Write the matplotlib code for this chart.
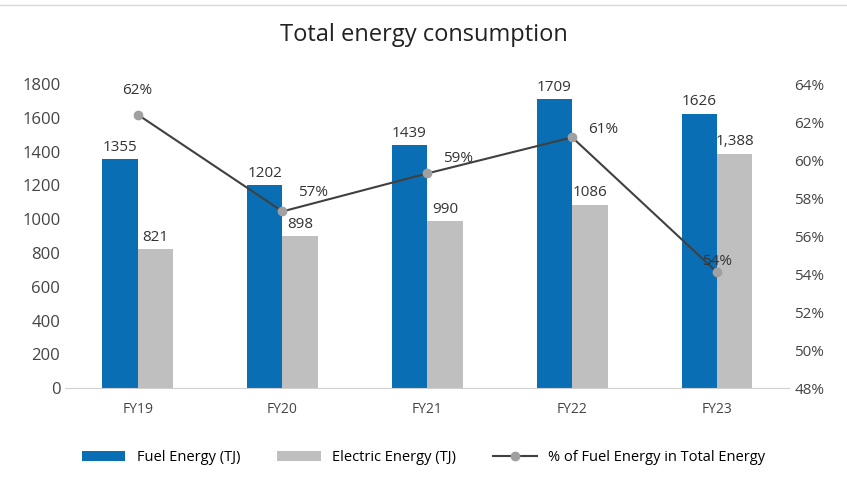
import numpy as np
import matplotlib.pyplot as plt

years = ["FY19", "FY20", "FY21", "FY22", "FY23"]
fuel = [1355, 1202, 1439, 1709, 1626]
electric = [821, 898, 990, 1086, 1388]
electric_labels = ["821", "898", "990", "1086", "1,388"]
fuel_pct = [62.4, 57.3, 59.3, 61.2, 54.1]
pct_labels = ["62%", "57%", "59%", "61%", "54%"]

plt.rcParams['font.family'] = ['Open Sans', 'DejaVu Sans']
fig = plt.figure(figsize=(8.47, 4.78), dpi=100)
ax = fig.add_axes([0.077, 0.188, 0.855, 0.636])
ax2 = ax.twinx()

x = np.arange(len(years))
w = 0.245
blue = "#0A6EB4"
grey = "#BFBFBF"
ax.bar(x - w / 2, fuel, w, color=blue, label="Fuel Energy (TJ)")
ax.bar(x + w / 2, electric, w, color=grey, label="Electric Energy (TJ)")
for i in range(len(x)):
    ax.text(x[i] - w / 2, fuel[i] + 25, str(fuel[i]), ha="center", va="bottom", fontsize=11, color="#333333")
    ax.text(x[i] + w / 2, electric[i] + 25, electric_labels[i], ha="center", va="bottom", fontsize=11, color="#333333")

ax.set_ylim(0, 1800)
ax.set_yticks(range(0, 1801, 200))
ax.set_xlim(-0.5, len(years) - 0.5)
ax.set_xticks(x)
ax.set_xticklabels(years)
ax.tick_params(axis="y", labelsize=12, colors="#444444", length=0)
ax.tick_params(axis="x", labelsize=10, colors="#444444", length=0, pad=10)

ax2.plot(x, fuel_pct, color="#404040", lw=1.5, marker="o", markersize=6,
         markerfacecolor="#A0A0A0", markeredgecolor="#A0A0A0",
         label="% of Fuel Energy in Total Energy")
offsets = [(0, 12), (22, 8), (22, 5), (22, 0), (0, 2)]
for i in range(len(x)):
    ax2.annotate(pct_labels[i], (x[i], fuel_pct[i]), textcoords="offset points",
                 xytext=offsets[i], ha="center", va="bottom", fontsize=11, color="#333333")
ax2.set_ylim(48, 64)
ax2.set_yticks(range(48, 65, 2))
ax2.set_yticklabels([f"{v}%" for v in range(48, 65, 2)])
ax2.tick_params(axis="y", labelsize=11, colors="#444444", length=0)

for a in (ax, ax2):
    for s in a.spines.values():
        s.set_visible(False)
ax.spines["bottom"].set_visible(True)
ax.spines["bottom"].set_color("#D0D0D0")

fig.text(0.5, 0.915, "Total energy consumption", ha="center", fontsize=17, color="#222222")
fig.add_artist(plt.Line2D([0, 1], [0.99, 0.99], color="#D9D9D9", lw=1))

h1, l1 = ax.get_legend_handles_labels()
h2, l2 = ax2.get_legend_handles_labels()
fig.legend(h1 + h2, l1 + l2, loc="lower center", bbox_to_anchor=(0.5, 0.0), ncol=3,
           frameon=False, fontsize=10.5, handlelength=3, columnspacing=2.5)

fig.savefig("out.png", dpi=100)
